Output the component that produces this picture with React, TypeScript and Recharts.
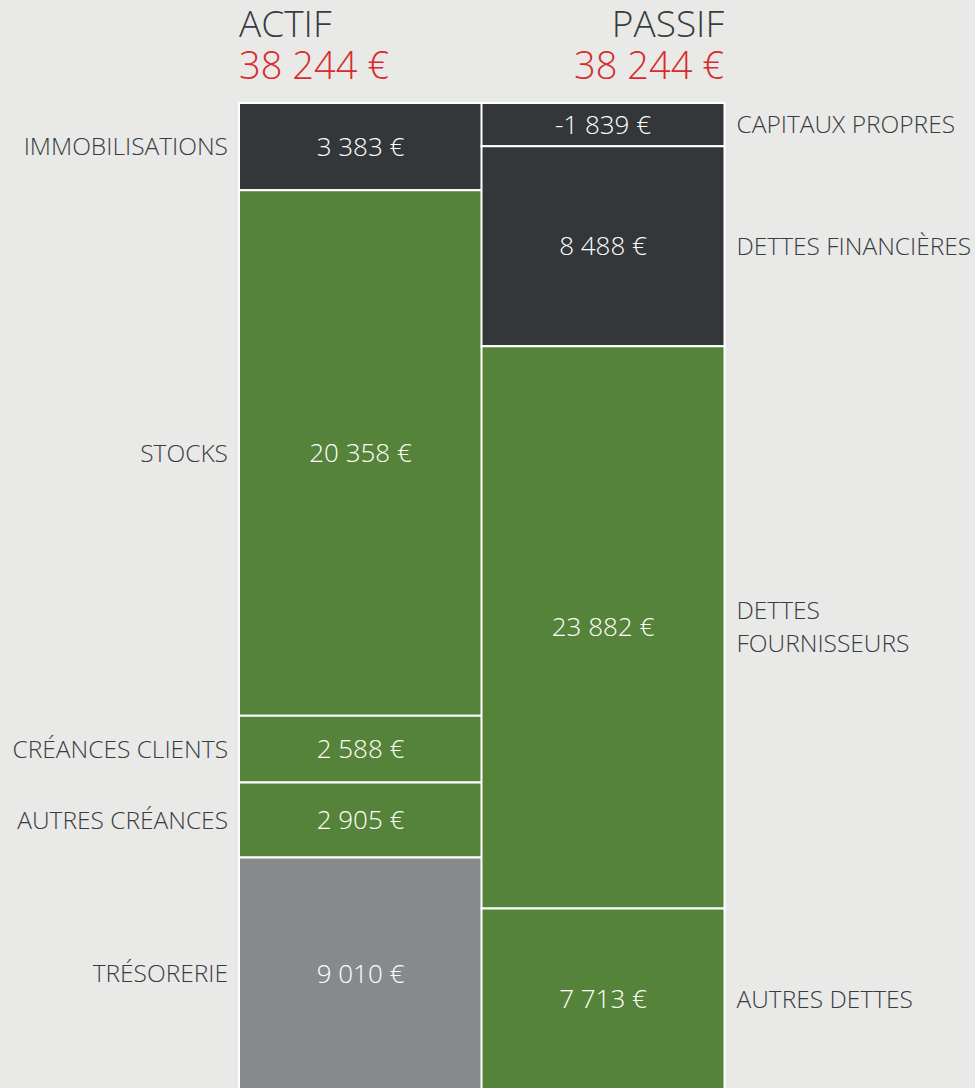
import { Bar, BarChart, LabelList, XAxis, YAxis } from 'recharts'

const columns = ['ACTIF', 'PASSIF']

const actifNames = ['IMMOBILISATIONS', 'STOCKS', 'CRÉANCES CLIENTS', 'AUTRES CRÉANCES', 'TRÉSORERIE']
const actifValues = [3383, 20358, 2588, 2905, 9010]
const actifColors = ['#33373a', '#558339', '#558339', '#558339', '#878a8d']

const passifNames = ['CAPITAUX PROPRES', 'DETTES FINANCIÈRES', 'DETTES\nFOURNISSEURS', 'AUTRES DETTES']
const passifValues = [-1839, 8488, 23882, 7713]
const passifColors = ['#33373a', '#33373a', '#558339', '#558339']

const FONT = '"Open Sans", "Segoe UI", sans-serif'
const TEXT = '#383c3f'

const fmt = (v: number) => {
  const s = Math.abs(v).toString().replace(/\B(?=(\d{3})+(?!\d))/g, ' ')
  return (v < 0 ? '-' : '') + s + ' €'
}

interface Segment {
  key: string
  name: string
  value: number
  color: string
  col: number
}

const segments: Segment[] = [
  ...actifNames.map((name, i) => ({ key: 'a' + i, name, value: actifValues[i], color: actifColors[i], col: 0 })),
  ...passifNames.map((name, i) => ({ key: 'p' + i, name, value: passifValues[i], color: passifColors[i], col: 1 })),
]

const data = columns.map((c, ci) => {
  const row: Record<string, string | number> = { name: c }
  segments.forEach((s) => {
    row[s.key] = s.col === ci ? Math.abs(s.value) : 0
  })
  return row
})

const totals = [
  actifValues.reduce((a, b) => a + b, 0),
  passifValues.reduce((a, b) => a + b, 0),
]

function HeaderTick(props: any) {
  const { x, payload, index } = props
  const half = payload.offset ?? 121
  const left = index === 0
  const tx = left ? x - half : x + half
  const anchor = left ? 'start' : 'end'
  return (
    <g>
      <text x={tx} y={37} textAnchor={anchor} fontSize={37} fontWeight={300} fontFamily={FONT} fill={TEXT}>
        {payload.value}
      </text>
      <text x={tx} y={79} textAnchor={anchor} fontSize={38} fontWeight={300} fontFamily={FONT} fill="#d92b2b">
        {fmt(totals[index])}
      </text>
    </g>
  )
}

function segmentLabel(seg: Segment) {
  return (props: any) => {
    const vb = props.viewBox ?? props
    const x = Number(vb.x)
    const y = Number(vb.y)
    const w = Number(vb.width)
    const h = Number(vb.height)
    if (!isFinite(h) || Math.abs(h) < 0.5) return null
    const cx = x + w / 2
    const cy = y + h / 2
    const lines = seg.name.split('\n')
    const sideX = seg.col === 0 ? x - 11 : x + w + 12
    const lh = 33
    return (
      <g>
        <text x={cx} y={cy} dy="0.35em" textAnchor="middle" fontSize={26} fontWeight={300} fontFamily={FONT} fill="#ffffff">
          {fmt(seg.value)}
        </text>
        <text
          x={sideX}
          y={cy - ((lines.length - 1) * lh) / 2}
          textAnchor={seg.col === 0 ? 'end' : 'start'}
          fontSize={24.5}
          fontWeight={300}
          fontFamily={FONT}
          fill={TEXT}
        >
          {lines.map((l, i) => (
            <tspan key={i} x={sideX} dy={i === 0 ? '0.35em' : lh}>
              {l}
            </tspan>
          ))}
        </text>
      </g>
    )
  }
}

export default function App() {
  return (
    <div
      style={{
        position: 'fixed',
        left: 0,
        top: 0,
        width: 975,
        height: 1088,
        overflow: 'hidden',
        background: '#e9e9e7',
      }}
    >
      <BarChart
        width={975}
        height={1090}
        data={data}
        stackOffset="expand"
        barCategoryGap={0}
        margin={{ top: 102, right: 251, bottom: 0, left: 239 }}
      >
        <XAxis
          dataKey="name"
          orientation="top"
          height={1}
          axisLine={false}
          tickLine={false}
          tick={<HeaderTick />}
          interval={0}
        />
        <YAxis hide reversed domain={[0, 1]} />
        {segments.map((s) => (
          <Bar
            key={s.key}
            dataKey={s.key}
            stackId="bilan"
            fill={s.color}
            stroke="#ffffff"
            strokeWidth={2}
            isAnimationActive={false}
          >
            <LabelList content={segmentLabel(s)} />
          </Bar>
        ))}
      </BarChart>
    </div>
  )
}
